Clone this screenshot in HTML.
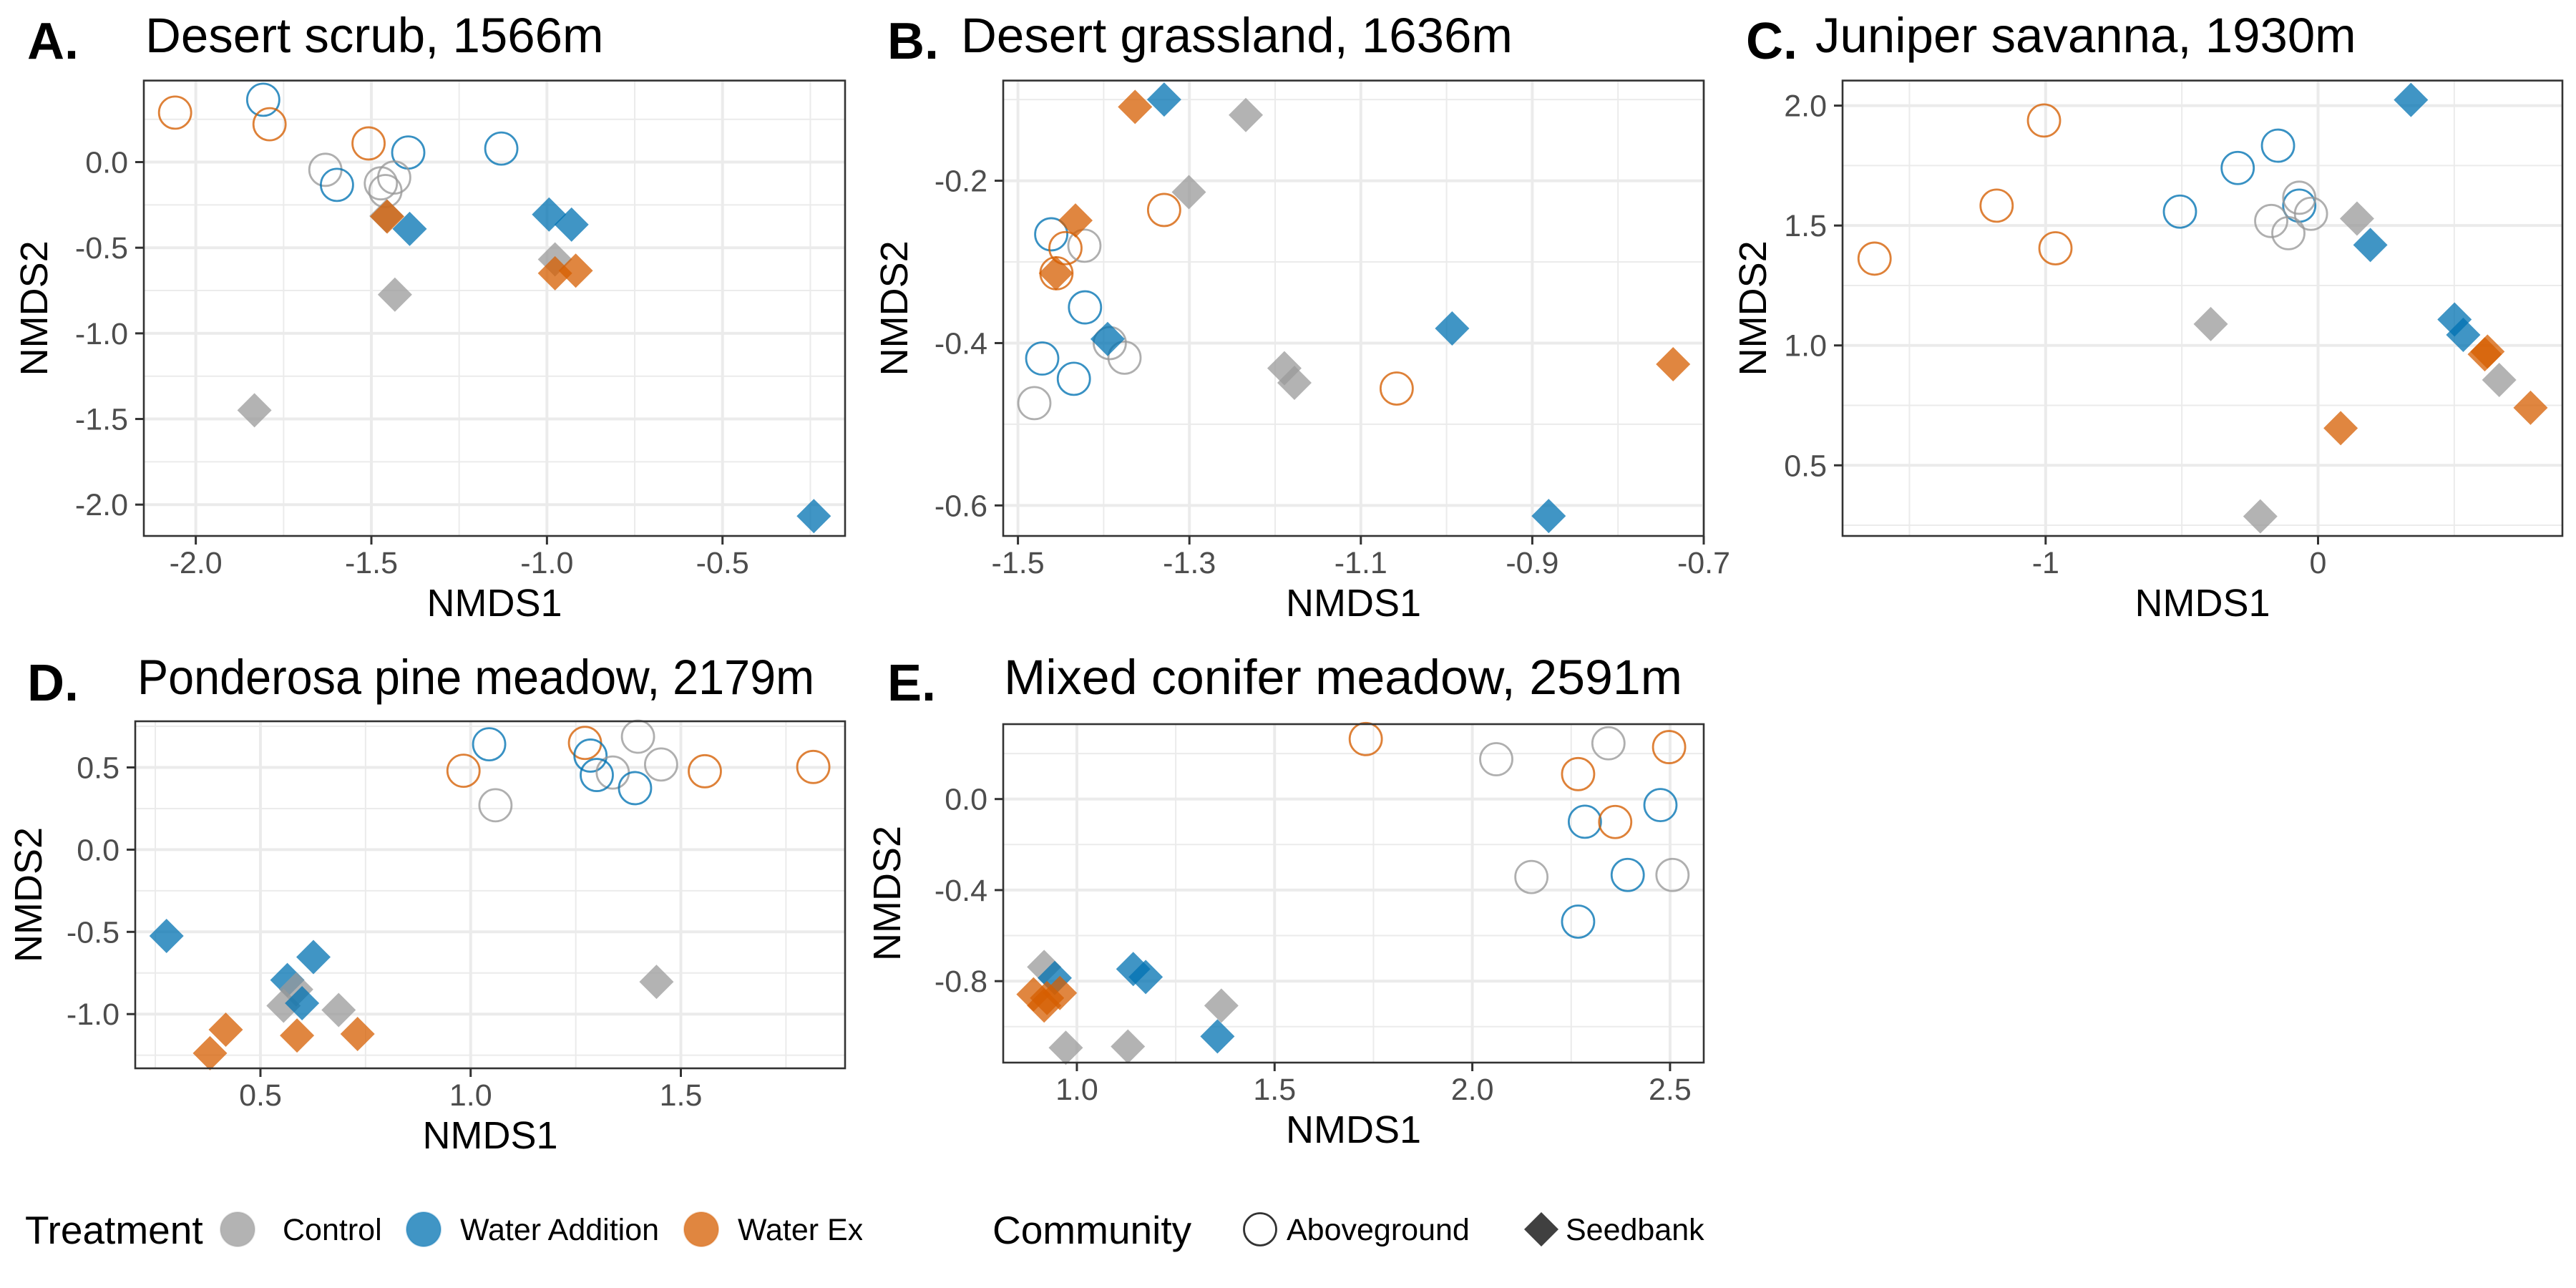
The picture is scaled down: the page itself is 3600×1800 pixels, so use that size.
<!DOCTYPE html>
<html><head><meta charset="utf-8">
<style>
html,body{margin:0;padding:0;background:#fff;}
svg{display:block;font-family:"Liberation Sans",Arial,sans-serif;}
</style></head>
<body>
<svg id="fig" width="3600" height="1800" viewBox="0 0 3600 1800" xmlns="http://www.w3.org/2000/svg">
<rect x="0" y="0" width="3600" height="1800" fill="#fff"/>
</svg>
<script>
// ---- data (treatment: C=Control, W=Water Addition, E=Water Exclusion; community: A=Aboveground, S=Seedbank)
const panelA_x = [-2.059,-1.808,-1.790,-1.508,-1.395,-1.130,-1.631,-1.598,-1.473,-1.435,-1.460, -1.457,-1.455,-1.391,-0.994,-0.930,-0.977,-0.977,-0.918,-1.433,-1.833,-0.240];
const panelA_y = [0.289,0.364,0.221,0.109,0.056,0.079,-0.045,-0.133,-0.124,-0.090,-0.169, -0.315,-0.318,-0.390,-0.306,-0.365,-0.568,-0.649,-0.634,-0.774,-1.449,-2.067];
const panelA_treatment = ["E","W","E","E","W","W","C","W","C","C","C", "C","E","W","W","W","C","E","E","C","C","W"];
const panelA_community = ["A","A","A","A","A","A","A","A","A","A","A", "S","S","S","S","S","S","S","S","S","S","S"];

const panelB_x = [-1.3295,-1.4612,-1.4446,-1.4225,-1.4551,-1.4218,-1.3929,-1.3757,-1.4717,-1.4348,-1.4809,-1.0582, -1.3634,-1.3295,-1.2342,-1.3006,-1.4329,-1.4557,-1.3954,-0.9935,-1.1892,-1.1775,-0.7357,-0.8809];
const panelB_y = [-0.236,-0.266,-0.283,-0.280,-0.314,-0.356,-0.400,-0.418,-0.419,-0.444,-0.474,-0.456, -0.109,-0.100,-0.119,-0.214,-0.249,-0.314,-0.395,-0.382,-0.431,-0.449,-0.426,-0.613];
const panelB_treatment = ["E","W","E","C","E","W","C","C","W","W","C","E", "E","W","C","C","E","E","W","W","C","C","E","W"];
const panelB_community = ["A","A","A","A","A","A","A","A","A","A","A","A", "S","S","S","S","S","S","S","S","S","S","S","S"];

const panelC_x = [-1.006,-1.180,-1.628,-0.964,-0.507,-0.295,-0.147,-0.069,-0.069,-0.026,-0.172,-0.109, 0.341,0.143,0.192,-0.394,0.501,0.533,0.622,0.612,0.665,0.780,0.083,-0.212];
const panelC_y = [1.938,1.583,1.362,1.405,1.558,1.740,1.833,1.583,1.616,1.549,1.519,1.468, 2.024,1.529,1.419,1.089,1.108,1.044,0.974,0.963,0.856,0.740,0.655,0.287];
const panelC_treatment = ["E","E","E","E","W","W","W","W","C","C","C","C", "W","C","W","C","W","W","E","E","C","E","E","C"];
const panelC_community = ["A","A","A","A","A","A","A","A","A","A","A","A", "S","S","S","S","S","S","S","S","S","S","S","S"];

const panelD_x = [1.044,0.983,1.059,1.272,1.285,1.398,1.453,1.338,1.300,1.391,1.557,1.815, 0.2766,0.626,0.564,0.585,0.555,0.599,0.686,1.442,0.4175,0.380,0.587,0.731];
const panelD_y = [0.641,0.480,0.270,0.649,0.572,0.687,0.518,0.469,0.454,0.374,0.477,0.503, -0.525,-0.653,-0.793,-0.850,-0.949,-0.934,-0.975,-0.804,-1.095,-1.238,-1.130,-1.121];
const panelD_treatment = ["W","E","C","E","W","C","C","C","W","W","E","E", "W","W","W","C","C","W","C","C","E","E","E","E"];
const panelD_community = ["A","A","A","A","A","A","A","A","A","A","A","A", "S","S","S","S","S","S","S","S","S","S","S","S"];

const panelE_x = [1.7305,2.0605,2.3442,2.4976,2.2675,2.4757,2.2846,2.3613,2.1494,2.3929,2.5062,2.2675, 0.9172,0.944,1.1425,1.174,0.8904,0.957,0.9172,0.9245,1.3653,1.3555,0.972,1.129];
const panelE_y = [0.2637,0.175,0.2449,0.2283,0.1097,-0.0266,-0.0997,-0.1008,-0.3424,-0.3335,-0.3335,-0.5385, -0.738,-0.786,-0.747,-0.782,-0.858,-0.852,-0.907,-0.874,-0.9075,-1.0427,-1.0925,-1.087];
const panelE_treatment = ["E","C","C","E","E","W","W","E","C","W","C","W", "C","W","W","W","E","E","E","E","C","W","C","C"];
const panelE_community = ["A","A","A","A","A","A","A","A","A","A","A","A", "S","S","S","S","S","S","S","S","S","S","S","S"];

// tick values / labels
const panelA_xticks = [-2.0,-1.5,-1.0,-0.5];
const panelA_xlabels = ["-2.0","-1.5","-1.0","-0.5"];
const panelA_yticks = [0.0,-0.5,-1.0,-1.5,-2.0];
const panelA_ylabels = ["0.0","-0.5","-1.0","-1.5","-2.0"];
const panelB_xticks = [-1.5,-1.3,-1.1,-0.9,-0.7];
const panelB_xlabels = ["-1.5","-1.3","-1.1","-0.9","-0.7"];
const panelB_yticks = [-0.2,-0.4,-0.6];
const panelB_ylabels = ["-0.2","-0.4","-0.6"];
const panelC_xticks = [-1,0];
const panelC_xlabels = ["-1","0"];
const panelC_yticks = [0.5,1.0,1.5,2.0];
const panelC_ylabels = ["0.5","1.0","1.5","2.0"];
const panelD_xticks = [0.5,1.0,1.5];
const panelD_xlabels = ["0.5","1.0","1.5"];
const panelD_yticks = [0.5,0.0,-0.5,-1.0];
const panelD_ylabels = ["0.5","0.0","-0.5","-1.0"];
const panelE_xticks = [1.0,1.5,2.0,2.5];
const panelE_xlabels = ["1.0","1.5","2.0","2.5"];
const panelE_yticks = [0.0,-0.4,-0.8];
const panelE_ylabels = ["0.0","-0.4","-0.8"];

const NS = "http://www.w3.org/2000/svg";
const svg = document.getElementById("fig");
const COLORS = {C:"#999999", W:"#0072B2", E:"#D55E00"};

function mk(tag, attrs, parent){
  const e = document.createElementNS(NS, tag);
  for (const k in attrs) e.setAttribute(k, attrs[k]);
  (parent||svg).appendChild(e);
  return e;
}
function txt(str, attrs, parent){ const t = mk("text", attrs, parent); t.textContent = str; return t; }

function panel(p){
  const g = mk("g", {});
  
  
  const sx = v => p.L + (v - p.xd[0]) / (p.xd[1] - p.xd[0]) * (p.R - p.L);
  const sy = v => p.B - (v - p.yd[0]) / (p.yd[1] - p.yd[0]) * (p.B - p.T);
  mk("rect", {x:p.L, y:p.T, width:p.R-p.L, height:p.B-p.T, fill:"#fff"}, g);
  const xs = p.xt, ys = p.yt;
  const xstep = Math.abs(xs[1]-xs[0]), ystep = Math.abs(ys[1]-ys[0]);
  const xmin = Math.min(...xs), ymin = Math.min(...ys);
  for (let k=-3;k<=xs.length+3;k++){
    const v = xmin + (k+0.5)*xstep;
    if (v> p.xd[0] && v < p.xd[1]) {
      const l = mk("line",{x1:sx(v),x2:sx(v),y1:p.T,y2:p.B,stroke:"#EBEBEB","stroke-width":2},g);
      
      
    }
  }
  for (let k=-3;k<=ys.length+3;k++){
    const v = ymin + (k+0.5)*ystep;
    if (v> p.yd[0] && v < p.yd[1]) {
      const l = mk("line",{x1:p.L,x2:p.R,y1:sy(v),y2:sy(v),stroke:"#EBEBEB","stroke-width":2},g);
      
      
    }
  }
  xs.forEach((v,i)=>{
    const l = mk("line",{x1:sx(v),x2:sx(v),y1:p.T,y2:p.B,stroke:"#EBEBEB","stroke-width":4},g);
    
    
    const t = mk("line",{x1:sx(v),x2:sx(v),y1:p.B,y2:p.B+12,stroke:"#333","stroke-width":3},g);
    
    
    const lb = txt(p.xl[i],{x:sx(v),y:p.B+52,"text-anchor":"middle","font-size":43,fill:"#4D4D4D"},g);
    
    
  });
  ys.forEach((v,i)=>{
    const l = mk("line",{x1:p.L,x2:p.R,y1:sy(v),y2:sy(v),stroke:"#EBEBEB","stroke-width":4},g);
    
    
    const t = mk("line",{x1:p.L-12,x2:p.L,y1:sy(v),y2:sy(v),stroke:"#333","stroke-width":3},g);
    
    
    const lb = txt(p.yl[i],{x:p.L-22,y:sy(v)+15,"text-anchor":"end","font-size":43,fill:"#4D4D4D"},g);
    
    
  });
  const order = [];
  p.c.forEach((c,i)=>{ if(c==="A") order.push(i); });
  p.c.forEach((c,i)=>{ if(c!=="A") order.push(i); });
  order.forEach(i=>{
    const cx = sx(p.x[i]), cy = sy(p.y[i]);
    const col = COLORS[p.t[i]];
    let m;
    if (p.c[i]==="A"){
      m = mk("circle",{cx:cx,cy:cy,r:22.5,fill:"none",stroke:col,"stroke-width":2.8,"stroke-opacity":0.78},g);
      
    } else {
      const h = 24;
      m = mk("polygon",{points:`${cx},${cy-h} ${cx+h},${cy} ${cx},${cy+h} ${cx-h},${cy}`,fill:col,"fill-opacity":0.75},g);
      
    }
    
  });
  const bd = mk("rect",{x:p.L,y:p.T,width:p.R-p.L,height:p.B-p.T,fill:"none",stroke:"#333","stroke-width":2.6},g);
  
  
  const lt = txt(p.letter,{x:p.lx,y:p.ty+9,"font-size":72,"font-weight":"bold",fill:"#000"},g);
  
  
  const tattrs = {x:p.tx,y:p.ty,"font-size":69,fill:"#000"};
  if (p.tw){ tattrs.textLength = p.tw; tattrs.lengthAdjust = "spacingAndGlyphs"; }
  const tt = txt(p.title,tattrs,g);
  
  
  const xt = txt("NMDS1",{x:(p.L+p.R)/2,y:p.B+112,"text-anchor":"middle","font-size":54,fill:"#000"},g);
  
  
  const yc = (p.T+p.B)/2;
  const yt = txt("NMDS2",{x:p.yx,y:yc,"text-anchor":"middle","font-size":54,fill:"#000",transform:`rotate(-90 ${p.yx} ${yc})`},g);
  
  
}

panel({name:"panel-a-desert-scrub",letter:"A.",title:"Desert scrub, 1566m",lx:38,tx:203,ty:73,yx:66,
  L:201,R:1181,T:112.6,B:749,xd:[-2.148,-0.151],yd:[-2.183,0.476],
  x:panelA_x,y:panelA_y,t:panelA_treatment,c:panelA_community,xt:panelA_xticks,xl:panelA_xlabels,yt:panelA_yticks,yl:panelA_ylabels});
panel({name:"panel-b-desert-grassland",letter:"B.",title:"Desert grassland, 1636m",lx:1240,tx:1343,ty:73,yx:1268,
  L:1402,R:2381,T:112.6,B:749,xd:[-1.5172,-0.7],yd:[-0.6376,-0.0766],
  x:panelB_x,y:panelB_y,t:panelB_treatment,c:panelB_community,xt:panelB_xticks,xl:panelB_xlabels,yt:panelB_yticks,yl:panelB_ylabels});
panel({name:"panel-c-juniper-savanna",letter:"C.",title:"Juniper savanna, 1930m",lx:2440,tx:2537,ty:73,yx:2468,
  L:2575,R:3581,T:112.6,B:749,xd:[-1.7455,0.897],yd:[0.2054,2.1045],
  x:panelC_x,y:panelC_y,t:panelC_treatment,c:panelC_community,xt:panelC_xticks,xl:panelC_xlabels,yt:panelC_yticks,yl:panelC_ylabels});
panel({name:"panel-d-ponderosa-pine-meadow",letter:"D.",title:"Ponderosa pine meadow, 2179m",lx:38,tx:192,tw:946,ty:970,yx:58,
  L:189,R:1181,T:1008,B:1493,xd:[0.2022,1.8906],yd:[-1.3298,0.7807],
  x:panelD_x,y:panelD_y,t:panelD_treatment,c:panelD_community,xt:panelD_xticks,xl:panelD_xlabels,yt:panelD_yticks,yl:panelD_ylabels});
panel({name:"panel-e-mixed-conifer-meadow",letter:"E.",title:"Mixed conifer meadow, 2591m",lx:1240,tx:1403,tw:948,ty:970,yx:1258,
  L:1402,R:2381,T:1012,B:1485,xd:[0.8137,2.5852],yd:[-1.1579,0.3291],
  x:panelE_x,y:panelE_y,t:panelE_treatment,c:panelE_community,xt:panelE_xticks,xl:panelE_xlabels,yt:panelE_yticks,yl:panelE_ylabels});

// ---- legends
const legT = mk("g",{});


const clip = mk("clipPath",{id:"legclip"});
mk("rect",{x:0,y:1600,width:1205,height:200},clip);
legT.setAttribute("clip-path","url(#legclip)");
const ttl = txt("Treatment",{x:35,y:1738,"font-size":55,fill:"#000"},legT);


const trtKeys = [["C",332,"Control",395],["W",592,"Water Addition",643],["E",980,"Water Exclusion",1031]];
trtKeys.forEach(k=>{
  const c = mk("circle",{cx:k[1],cy:1718,r:24,fill:COLORS[k[0]],"fill-opacity":0.75,stroke:COLORS[k[0]],"stroke-opacity":0.3,"stroke-width":2},legT);
  
  
  const t = txt(k[2],{x:k[3],y:1733,"font-size":43,fill:"#000"},legT);
  
  
});
const legC = mk("g",{});


const ctl = txt("Community",{x:1387,y:1738,"font-size":55,fill:"#000"},legC);


const ca = mk("circle",{cx:1761,cy:1718,r:22.5,fill:"none",stroke:"#333","stroke-width":2.8},legC);


const cat = txt("Aboveground",{x:1798,y:1733,"font-size":43,fill:"#000"},legC);


const sd = mk("polygon",{points:"2154,1694 2178,1718 2154,1742 2130,1718",fill:"#404040"},legC);


const sdt = txt("Seedbank",{x:2188,y:1733,"font-size":43,fill:"#000"},legC);


</script>
</body></html>
